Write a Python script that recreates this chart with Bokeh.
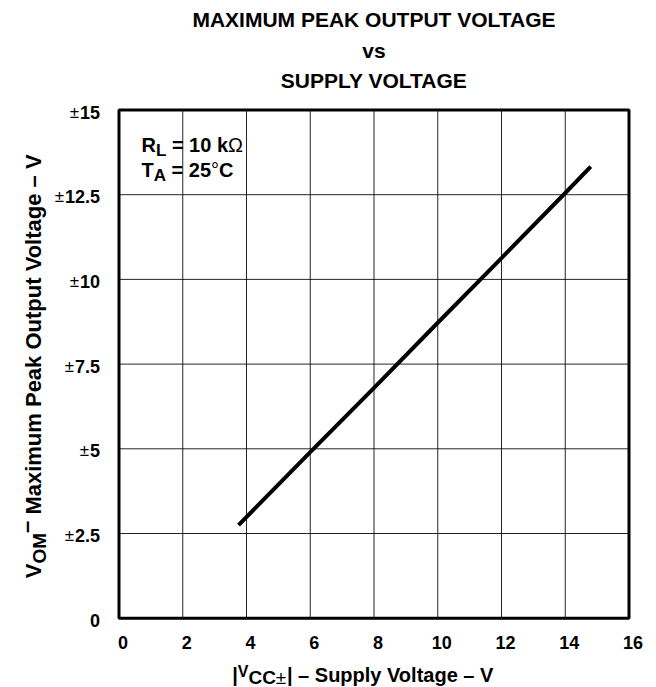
import math
from bokeh.plotting import figure
from bokeh.models import Label, Range1d
from bokeh.core.properties import value
from bokeh.embed import file_html
from bokeh.resources import INLINE

# ---- data ----
supply_voltage = [3.75, 6.0, 8.0, 10.0, 12.0, 14.0, 14.8]
peak_output_voltage = [2.75, 4.9, 6.8, 8.72, 10.63, 12.55, 13.33]

x_ticks = [0, 2, 4, 6, 8, 10, 12, 14, 16]
x_tick_labels = ["0", "2", "4", "6", "8", "10", "12", "14", "16"]
y_ticks = [0.0, 2.5, 5.0, 7.5, 10.0, 12.5, 15.0]
y_tick_labels = ["0", "±2.5", "±5", "±7.5", "±10", "±12.5", "±15"]

title_lines = ["MAXIMUM PEAK OUTPUT VOLTAGE", "vs", "SUPPLY VOLTAGE"]

FONT = "Liberation Sans"
W, H = 648, 687
MID = 0.3465  # em offset from baseline to the 'middle' text anchor

# pixel placement of the plotting area
PLOT_L, PLOT_R, PLOT_T, PLOT_B = 118.5, 628.5, 109.5, 617.7

x0, x1 = x_ticks[0], x_ticks[-1]
y0, y1 = y_ticks[0], y_ticks[-1]
kx = (PLOT_R - PLOT_L) / (x1 - x0)
ky = (PLOT_B - PLOT_T) / (y1 - y0)
x_range = Range1d(x0 - PLOT_L / kx, x1 + (W - PLOT_R) / kx)
y_range = Range1d(y0 - (H - PLOT_B) / ky, y1 + PLOT_T / ky)

p = figure(width=W, height=H, x_range=x_range, y_range=y_range,
           x_axis_type=None, y_axis_type=None,
           output_backend="svg", toolbar_location=None, title=None, min_border=0)
p.outline_line_color = None
p.background_fill_color = "white"
p.border_fill_color = "white"
p.xgrid.visible = False
p.ygrid.visible = False

# grid lines
p.segment(x0=x_ticks, y0=[y0] * len(x_ticks), x1=x_ticks, y1=[y1] * len(x_ticks),
          line_color="black", line_width=1, line_alpha=0.85)
p.segment(x0=[x0] * len(y_ticks), y0=y_ticks, x1=[x1] * len(y_ticks), y1=y_ticks,
          line_color="black", line_width=1, line_alpha=0.85)
# frame
p.quad(left=[x0], right=[x1], bottom=[y0], top=[y1], fill_color=None,
       line_color="black", line_width=3)

# data
p.line(supply_voltage, peak_output_voltage, line_color="black", line_width=4)

# ---- text metrics (Arial/Liberation Sans bold, per 1000 em) ----
WIDTHS = {" ": 278, "|": 280, "–": 556, "±": 584, "=": 584, "°": 400, "Ω": 768,
          ".": 278, "A": 722, "C": 722, "E": 667, "G": 778, "K": 722, "L": 611,
          "M": 833, "O": 778, "P": 667, "R": 722, "S": 667, "T": 611, "U": 722,
          "V": 667, "X": 667, "Y": 667, "I": 278, "a": 556, "e": 556, "g": 611,
          "i": 278, "k": 556, "l": 278, "m": 889, "o": 611, "p": 611, "t": 333,
          "u": 611, "x": 556, "y": 556, "s": 556, "v": 556}
for d in "0123456789":
    WIDTHS[d] = 556


def text_w(s, size):
    return sum(WIDTHS.get(c, 600) for c in s) * size / 1000.0


# tick labels (through the data scales)
TICK = 18
p.text(x=x_ticks, y=[y0] * len(x_ticks), text=x_tick_labels, x_offset=4, y_offset=24,
       text_font=value(FONT), text_font_style="bold", text_font_size=f"{TICK}px",
       text_align="center", text_baseline="middle", text_color="black")

nums = [lab.lstrip("±") for lab in y_tick_labels]
signs = [lab[:len(lab) - len(n)] for lab, n in zip(y_tick_labels, nums)]
p.text(x=[x0] * len(y_ticks), y=y_ticks, text=nums, x_offset=-19, y_offset=2,
       text_font=value(FONT), text_font_style="bold", text_font_size=f"{TICK}px",
       text_align="right", text_baseline="middle", text_color="black")
sign_off = [-19 - text_w(n, TICK) - 1 for n in nums]
p.text(x=[x0] * len(y_ticks), y=y_ticks, text=signs, x_offset=sign_off, y_offset=2,
       text_font=value(FONT), text_font_style="normal", text_font_size=f"{TICK - 1}px",
       text_align="right", text_baseline="middle", text_color="black")


def to_data(px, py):
    return x0 + (px - PLOT_L) / kx, y0 + (PLOT_B - py) / ky


def add_text(text, px, py, size, style="bold", angle=0.0, align="left"):
    # (px, py): pixel position of the text baseline start
    if angle == 0.0:
        py = py - MID * size
    else:
        px = px - MID * size
    dx, dy = to_data(px, py)
    p.add_layout(Label(x=dx, y=dy, text=text,
                       text_font=FONT, text_font_size=f"{size}px",
                       text_font_style=style, text_color="black",
                       text_baseline="middle", text_align=align, angle=angle))


def add_run(pieces, px, py, vertical=False):
    for text, size, shift, style in pieces:
        if text.strip():
            if not vertical:
                add_text(text, px, py + shift, size, style)
            else:
                add_text(text, px + shift, py, size, style, angle=math.pi / 2)
        adv = text_w(text, size)
        if not vertical:
            px += adv
        else:
            py -= adv


def run_len(pieces):
    return sum(text_w(t, s) for t, s, _, _ in pieces)


# title
for line, yb in zip(title_lines, [26.5, 57, 87]):
    add_text(line, 373.5, yb, 21, align="center")

# conditions
add_run([("R", 20, 0, "bold"), ("L", 17, 5, "bold"), (" ", 20, 0, "bold"),
         ("= 10 k", 20, 0, "bold"), ("Ω", 20, 0, "normal")], 141, 151)
add_run([("T", 20, 0, "bold"), ("A", 17, 5, "bold"), (" ", 20, 0, "bold"),
         ("= 25", 20, 0, "bold"), ("°", 20, 0, "normal"), ("C", 20, 0, "bold")], 141, 176)

# x axis label
x_pieces = [("|", 20, 0, "bold"), ("V", 16, -4, "bold"), ("CC", 19, 3, "bold"),
            ("±", 19, 3, "normal"), ("|", 20, 0, "bold"), (" ", 20, 0, "bold"),
            ("– Supply Voltage – V", 20, 0, "bold")]
XL = run_len(x_pieces)
add_run(x_pieces, 363 - XL / 2, 681)

# y axis label (rotated, reads bottom to top)
y_pieces = [("V", 22, 0, "bold"), ("OM", 19, 5, "bold"), ("–", 22, -7, "bold"),
            (" ", 22, 0, "bold"), ("Maximum Peak Output Voltage – V", 22, 0, "bold")]
YL = run_len(y_pieces)
add_run(y_pieces, 41, 365 + YL / 2, vertical=True)

open("out.html", "w").write(file_html(p, INLINE))
